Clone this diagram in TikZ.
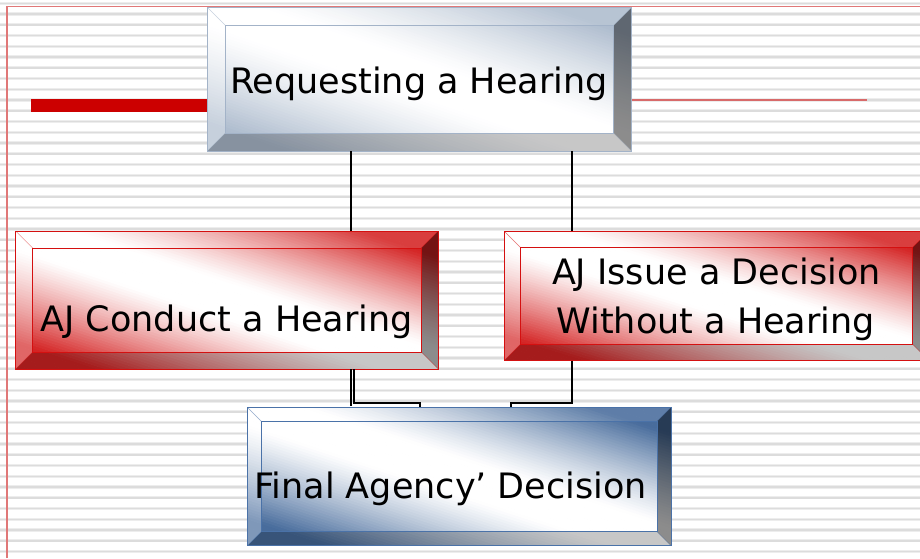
\documentclass[tikz,border=0pt]{standalone}
\usepackage{fontspec}
\setmainfont{DejaVu Sans}
\usetikzlibrary{calc}

\definecolor{steelC}{HTML}{AEBCCE}
\definecolor{steelL}{HTML}{A3B3C8}
\definecolor{redC}{HTML}{D42424}
\definecolor{redL}{HTML}{D41010}
\definecolor{blueC}{HTML}{486C9C}
\definecolor{blueL}{HTML}{4A72A8}
\definecolor{stripeA}{HTML}{EDEDED}
\definecolor{stripeB}{HTML}{DCDCDC}
\definecolor{frameR}{HTML}{E07878}
\definecolor{barR}{HTML}{CC0000}
\definecolor{lineR}{HTML}{D86A6A}

\tikzset{
  bev/.store in=\bevw, bev=17,
  bw/.code={\def\bxw{#1}\pgfkeysalso{minimum width=#1pt}},
  bh/.code={\def\bxh{#1}\pgfkeysalso{minimum height=#1pt}},
  % bevelled button: diagonal face gradient (colour in two corners,
  % white band along the other diagonal), four shaded facets, outlines
  bevelbox/.style 2 args={shape=rectangle, inner sep=0pt, outer sep=0pt,
    draw=#2, line width=0.8pt,
    path picture={
      \pgfmathsetmacro\ha{\bxw/2}
      \pgfmathsetmacro\hb{\bxh/2}
      \begin{scope}[shift={(path picture bounding box.center)}]
        \foreach \k in {0,...,104} {
          \pgfmathsetmacro\ta{-1.05+\k*0.02}
          \pgfmathsetmacro\tb{\ta+0.024}
          \pgfmathsetmacro\uu{abs(\ta+0.01)}
          \pgfmathsetmacro\mx{100*(max(0.0001,min(1,(\uu-0.13)/0.68)))^1.2}
          \fill[#1!\mx!white]
            ({\ha*(\ta+1.6)*1pt},{\hb*(\ta-1.6)*1pt}) --
            ({\ha*(\ta-1.6)*1pt},{\hb*(\ta+1.6)*1pt}) --
            ({\ha*(\tb-1.6)*1pt},{\hb*(\tb+1.6)*1pt}) --
            ({\ha*(\tb+1.6)*1pt},{\hb*(\tb-1.6)*1pt}) -- cycle;
        }
      \end{scope}
      \coordinate (q1) at (path picture bounding box.north west);
      \coordinate (q2) at (path picture bounding box.north east);
      \coordinate (q3) at (path picture bounding box.south east);
      \coordinate (q4) at (path picture bounding box.south west);
      \coordinate (i1) at ($(q1)+(\bevw,\bevw)$);
      \coordinate (i2) at ($(q2)+(-\bevw,\bevw)$);
      \coordinate (i3) at ($(q3)+(-\bevw,-\bevw)$);
      \coordinate (i4) at ($(q4)+(\bevw,-\bevw)$);
      \fill[white, opacity=0.12] (q1) -- (q2) -- (i2) -- (i1) -- cycle;
      \fill[black, opacity=0.45] (q2) -- (q3) -- (i3) -- (i2) -- cycle;
      \fill[black, opacity=0.22] (q3) -- (q4) -- (i4) -- (i3) -- cycle;
      \fill[white, opacity=0.30] (q4) -- (q1) -- (i1) -- (i4) -- cycle;
      \draw[#2, line width=0.7pt] (i1) rectangle (i3);
      \draw[#2, line width=0.4pt, opacity=0.6] (q1) -- (i1) (q2) -- (i2) (q3) -- (i3) (q4) -- (i4);
    }},
  lbl/.style={inner sep=0pt, outer sep=0pt, anchor=base, text=black,
    font=\fontsize{35}{49.3}\selectfont},
  conn/.style={draw=black, line width=1.7pt},
}

\begin{document}
\begin{tikzpicture}[x=1pt, y=-1pt]
  \useasboundingbox (0,0) rectangle (920,558);
  \clip (0,0) rectangle (920,558);
  \fill[white] (0,0) rectangle (920,558);

  % ruled background
  \foreach \k in {0,...,51} {
    \draw[stripeA, line width=3.2pt] (0,{3.3+10.75*\k}) -- (920,{3.3+10.75*\k});
    \draw[stripeB, line width=1.5pt] (0,{3.3+10.75*\k}) -- (920,{3.3+10.75*\k});
  }

  % page frame and title rule
  \draw[frameR, line width=1.5pt] (7,558) -- (7,6.7) -- (920,6.7);
  \fill[barR] (31,99.3) rectangle (215,111.7);

  % boxes
  \node[bevelbox={steelC}{steelL}, bev=18, bw=424.4, bh=143.7] (top) at (419.5,79.15) {};
  \node[bevelbox={redC}{redL}, bev=17, bw=422.6, bh=138] (left) at (227,300) {};
  \node[bevelbox={redC}{redL}, bev=16.5, bw=425, bh=129.7] (right) at (716.5,295.85) {};
  \node[bevelbox={blueC}{blueL}, bev=14, bw=423.7, bh=138.4] (bottom) at (459.15,476.5) {};

  % thin rule to the right of the title box
  \coordinate (rl) at (867,100);
  \draw[lineR, line width=1.3pt] (top.east |- rl) -- (rl);

  % connectors
  \coordinate (ta) at ($(top.south west)!0.339!(top.south east)$);
  \coordinate (tb) at ($(top.south west)!0.86!(top.south east)$);
  \coordinate (ba) at ($(bottom.north west)!0.4076!(bottom.north east)$);
  \coordinate (bb) at ($(bottom.north west)!0.6224!(bottom.north east)$);
  \coordinate (lb) at ($(ta)+(3,0)$);
  \draw[conn] (ta) -- (ta |- left.north);
  \draw[conn] (tb) -- (tb |- right.north);
  \draw[conn] (ta |- left.south) -- ($(ta |- bottom.north)+(0,-1)$);
  \draw[conn] (lb |- left.south) |- ($(ba)+(0,-4)$) -- (ba);
  \draw[conn] (tb |- right.south) |- ($(bb)+(0,-4)$) -- (bb);

  % labels
  \node[lbl] (t1) at (418.9,93.3) {Requesting a Hearing};
  \node[lbl] (t2) at (226.7,331.7) {AJ Conduct a Hearing};
  \node[lbl] (t3) at (716.3,284) {AJ Issue a Decision};
  \node[lbl] (t4) at (715.8,333.3) {Without a Hearing};
  \node[lbl] (t5) at (450.5,498.3) {Final Agency’ Decision};
\end{tikzpicture}
\end{document}
